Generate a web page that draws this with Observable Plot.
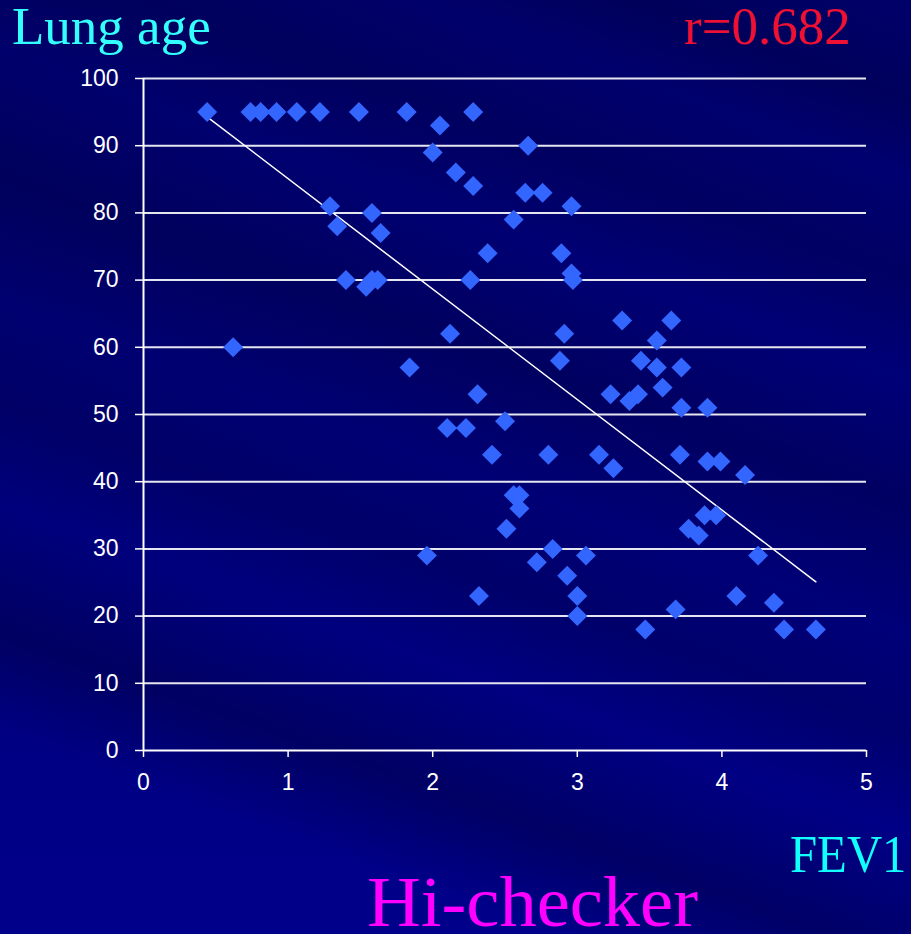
<!DOCTYPE html>
<html><head><meta charset="utf-8">
<script src="https://cdn.jsdelivr.net/npm/d3@7"></script>
<script src="https://cdn.jsdelivr.net/npm/@observablehq/plot@0.6"></script>
<style>
html,body{margin:0;padding:0;}
body{width:911px;height:934px;overflow:hidden;
background:
 linear-gradient(200deg, rgba(0,0,60,0) 0%, rgba(0,0,60,0.35) 8%, rgba(0,0,60,0) 14%, rgba(0,0,60,0.3) 22%, rgba(0,0,60,0) 30%, rgba(0,0,60,0.4) 40%, rgba(0,0,60,0.1) 50%, rgba(0,0,60,0.3) 58%, rgba(0,0,60,0) 66%, rgba(0,0,60,0.45) 76%, rgba(0,0,60,0) 84%, rgba(0,0,60,0) 100%),
 linear-gradient(180deg, #00006a 0%, #000078 40%, #000080 70%, #00008a 100%);}
#wrap{position:relative;width:911px;height:934px;}
#chart{position:absolute;left:0;top:0;}
.t{position:absolute;font-family:"Liberation Serif","DejaVu Serif",serif;white-space:nowrap;line-height:1;transform-origin:left top;}
</style></head>
<body><div id="wrap">
<div id="chart"></div>
<div class="t" style="left:12px;top:0px;font-size:53px;color:#33ffff">Lung age</div>
<div class="t" style="left:684px;top:0px;font-size:53px;color:#ee1133">r=0.682</div>
<div class="t" style="left:790px;top:828px;font-size:53px;color:#11ffff;transform:scaleX(0.92)">FEV1</div>
<div class="t" style="left:367px;top:866px;font-size:72px;color:#ff00ff;transform:scaleX(1.035)">Hi-checker</div>
</div>
<script>
const fev1 = [0.44,0.74,0.81,0.92,1.06,1.22,1.49,1.82,2.28,2.05,2.00,2.16,2.28,2.66,2.64,2.76,2.96,2.56,1.29,1.58,1.34,1.64,2.38,2.89,1.40,1.54,1.58,1.62,2.26,2.96,2.97,2.12,0.62,1.84,3.31,3.65,2.91,3.55,2.88,3.44,3.55,3.72,3.59,3.23,3.36,3.42,3.72,3.90,2.31,2.10,2.23,2.50,2.41,2.80,3.15,3.25,3.71,3.90,3.99,4.16,2.56,2.60,2.60,2.51,3.88,3.96,3.77,3.84,2.83,2.72,3.06,2.93,3.00,3.00,3.47,3.68,4.25,4.10,4.36,4.43,4.65,1.96,2.32];
const lungAge = [95,95,95,95,95,95,95,95,95,93,89,86,84,90,83,83,81,79,81,80,78,77,74,74,70,69,70,70,70,71,70,62,60,57,64,64,62,61,58,58,57,57,54,53,52,53,51,51,53,48,48,49,44,44,44,42,44,43,43,41,38,38,36,33,35,35,33,32,30,28,29,26,23,20,18,21,29,23,22,18,18,29,23];
const trendX = [0.44, 4.65];
const trendY = [94.3, 25.1];
const xTicks = [0,1,2,3,4,5];
const yTicks = [0,10,20,30,40,50,60,70,80,90,100];

const pts = fev1.map((x,i)=>({x, y: lungAge[i]}));
const trend = trendX.map((x,i)=>({x, y: trendY[i]}));

const chart = Plot.plot({
  width: 911, height: 934,
  marginTop: 78, marginLeft: 143, marginRight: 45, marginBottom: 184,
  style: {background: "transparent", color: "white", fontFamily: "'Liberation Sans', Arial, sans-serif", fontSize: "23px", overflow: "visible"},
  x: {domain: [0,5], label: null},
  y: {domain: [0,100], label: null},
  marks: [
    Plot.ruleY(yTicks.filter(d => d > 0), {stroke: "white", strokeWidth: 2, strokeOpacity: 0.9}),
    Plot.ruleY([0], {stroke: "white", strokeWidth: 2}),
    Plot.ruleX([0], {stroke: "white", strokeWidth: 2}),
    Plot.line(trend, {x: "x", y: "y", stroke: "white", strokeWidth: 1.5}),
    Plot.dot(pts, {x: "x", y: "y", symbol: "diamond2", r: 9, fill: "#3366ff", stroke: "none"}),
    Plot.axisX({ticks: xTicks, tickFormat: "d", tickSize: 7, tickPadding: 16, stroke: "white", strokeWidth: 1.5, fill: "white"}),
    Plot.axisY({ticks: yTicks, tickFormat: "d", tickSize: 8, tickPadding: 17, stroke: "white", strokeWidth: 1.5, fill: "white"})
  ]
});
document.getElementById("chart").appendChild(chart);
</script>
</body></html>
